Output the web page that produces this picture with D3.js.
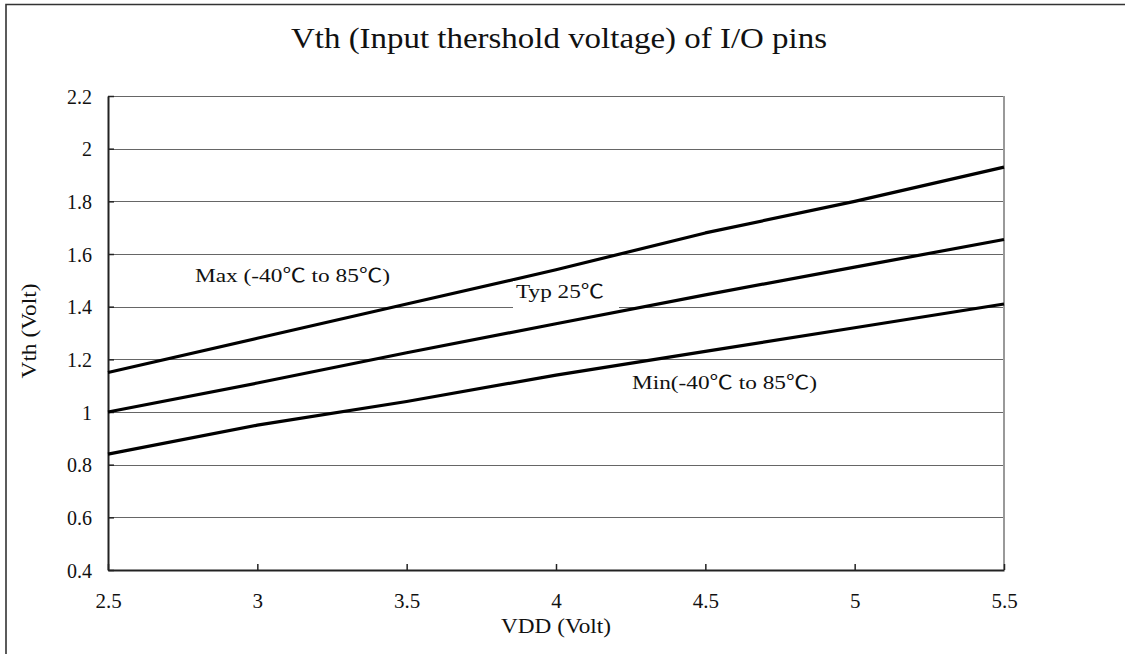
<!DOCTYPE html>
<html>
<head>
<meta charset="utf-8">
<script src="https://cdn.jsdelivr.net/npm/d3@7"></script>
<style>
  html, body { margin: 0; padding: 0; background: #fff; }
  svg { display: block; }
  text { font-family: "Liberation Serif", "Noto Sans CJK TC", serif; fill: #111; }
</style>
</head>
<body>
<svg id="chart" width="1125" height="654"></svg>
<script>
// ---- data ----
const vdd = [2.5, 3, 3.5, 4, 4.5, 5, 5.5];
const vthMax = [1.15, 1.28, 1.41, 1.54, 1.68, 1.80, 1.93];
const vthTyp = [1.00, 1.11, 1.225, 1.335, 1.445, 1.55, 1.655];
const vthMin = [0.84, 0.95, 1.04, 1.14, 1.23, 1.32, 1.41];
const xTicks = [2.5, 3, 3.5, 4, 4.5, 5, 5.5];
const xTickLabels = ["2.5", "3", "3.5", "4", "4.5", "5", "5.5"];
const yTicks = [0.4, 0.6, 0.8, 1.0, 1.2, 1.4, 1.6, 1.8, 2.0, 2.2];
const yTickLabels = ["0.4", "0.6", "0.8", "1", "1.2", "1.4", "1.6", "1.8", "2", "2.2"];
const seriesNames = ["Max (-40℃ to 85℃)", "Typ 25℃", "Min(-40℃ to 85℃)"];
const titleText = "Vth (Input thershold voltage) of I/O pins";
const xTitle = "VDD (Volt)";
const yTitle = "Vth (Volt)";

const svg = d3.select("#chart");
const plot = {left: 108, right: 1004, top: 96, bottom: 570};

const x = d3.scaleLinear().domain([2.5, 5.5]).range([plot.left, plot.right]);
const y = d3.scaleLinear().domain([0.4, 2.2]).range([plot.bottom, plot.top]);

// outer frame (left and top edges visible)
svg.append("path")
  .attr("d", `M6,660 L6,4.5 L1130,4.5`)
  .attr("fill", "none").attr("stroke", "#333").attr("stroke-width", 1.6);

// gridlines
svg.append("g").selectAll("line").data(yTicks.slice(1)).join("line")
  .attr("x1", plot.left).attr("x2", plot.right)
  .attr("y1", d => Math.round(y(d)) + 0.5).attr("y2", d => Math.round(y(d)) + 0.5)
  .attr("stroke", "#666").attr("stroke-width", 1);

// right edge of plot
svg.append("line")
  .attr("x1", plot.right).attr("x2", plot.right)
  .attr("y1", plot.top).attr("y2", plot.bottom)
  .attr("stroke", "#999").attr("stroke-width", 2);

// axes
const yAxis = d3.axisLeft(y).tickValues(yTicks)
  .tickFormat((d, i) => yTickLabels[i]).tickSizeInner(-6).tickSizeOuter(0).tickPadding(22);
const gy = svg.append("g").attr("transform", `translate(${plot.left},0)`).call(yAxis);
gy.select(".domain").attr("stroke", "#222").attr("stroke-width", 2);
gy.selectAll(".tick line").attr("stroke", "#222").attr("stroke-width", 1.5);
gy.selectAll(".tick text").attr("font-size", 20).attr("fill", "#111")
  .attr("font-family", "Liberation Serif, serif").attr("dy", "0.35em").attr("x", -16);

const xAxis = d3.axisBottom(x).tickValues(xTicks)
  .tickFormat((d, i) => xTickLabels[i]).tickSizeInner(-6).tickSizeOuter(0).tickPadding(24);
const gx = svg.append("g").attr("transform", `translate(0,${plot.bottom})`).call(xAxis);
gx.select(".domain").attr("stroke", "#222").attr("stroke-width", 2);
gx.selectAll(".tick line").attr("stroke", "#222").attr("stroke-width", 1.5);
gx.selectAll(".tick text").attr("font-size", 21).attr("fill", "#111")
  .attr("font-family", "Liberation Serif, serif").attr("dy", "0").attr("y", 38);

// data lines
const line = d3.line().x((d, i) => x(vdd[i])).y(d => y(d));
[vthMax, vthTyp, vthMin].forEach(s => {
  svg.append("path").datum(s).attr("d", line)
    .attr("fill", "none").attr("stroke", "#000").attr("stroke-width", 3.2)
    .attr("stroke-linejoin", "round");
});

// labels
svg.append("text").attr("x", 195).attr("y", 282).attr("font-size", 19)
  .attr("textLength", 195).attr("lengthAdjust", "spacingAndGlyphs").text(seriesNames[0]);

svg.append("rect").attr("x", 513).attr("y", 281).attr("width", 106).attr("height", 27).attr("fill", "#fff");
svg.append("text").attr("x", 516).attr("y", 298).attr("font-size", 19)
  .attr("textLength", 88).attr("lengthAdjust", "spacingAndGlyphs").text(seriesNames[1]);

svg.append("text").attr("x", 632).attr("y", 389).attr("font-size", 19)
  .attr("textLength", 185).attr("lengthAdjust", "spacingAndGlyphs").text(seriesNames[2]);

// titles
svg.append("text").attr("x", 559).attr("y", 48).attr("text-anchor", "middle")
  .attr("font-size", 29).attr("textLength", 536).attr("lengthAdjust", "spacingAndGlyphs").text(titleText);
svg.append("text").attr("x", 556).attr("y", 633).attr("text-anchor", "middle")
  .attr("font-size", 21).attr("textLength", 110).attr("lengthAdjust", "spacingAndGlyphs").text(xTitle);
svg.append("text").attr("transform", "translate(36,331) rotate(-90)").attr("text-anchor", "middle")
  .attr("font-size", 21).attr("textLength", 95).attr("lengthAdjust", "spacingAndGlyphs").text(yTitle);
</script>
</body>
</html>
